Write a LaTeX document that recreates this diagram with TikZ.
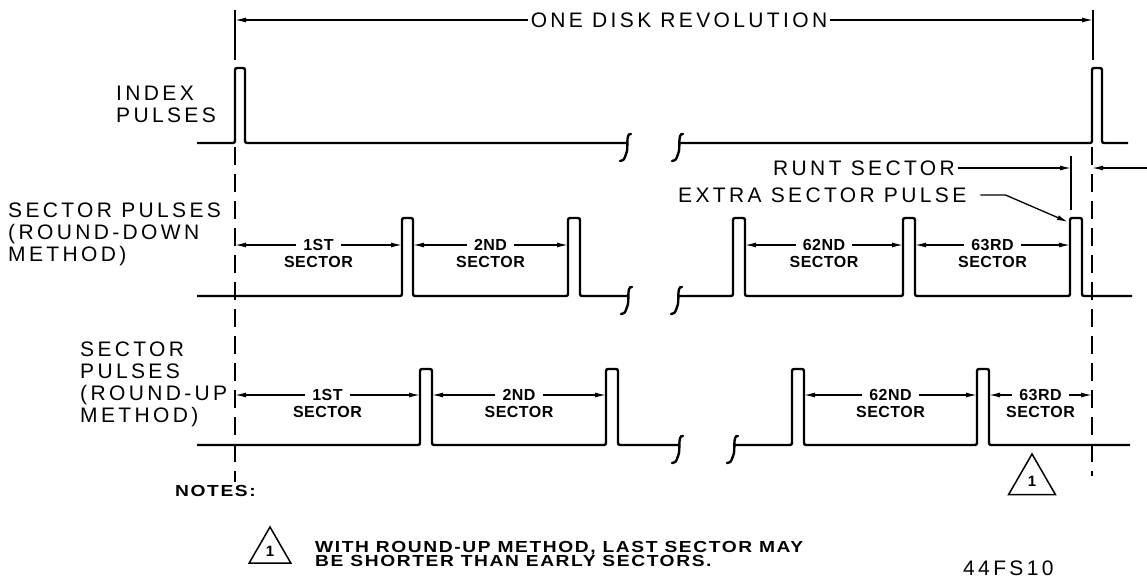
\documentclass[tikz,border=0pt]{standalone}
\usepackage{fontspec}
\usetikzlibrary{arrows.meta,shapes.geometric}
\newfontfamily\plotfont[LetterSpace=16]{Liberation Sans}
\newfontfamily\tagfont[LetterSpace=3]{Liberation Sans}
\newfontfamily\notefont[FakeStretch=1.2,LetterSpace=10]{Liberation Sans Bold}

\newcommand{\wavebreak}[2]{%
  \draw[brk] (#1+5,#2-9) .. controls (#1-1,#2-10) and (#1+3,#2+6) .. (#1,#2+11)
    .. controls (#1-2,#2+17) .. (#1-6,#2+18);}
\newcommand{\sectorspan}[5]{%
  \coordinate (#1l) at (#2,#4);
  \coordinate (#1r) at (#3,#4);
  \node[ordtag] (#1) at ({(#2+#3)/2},#4) {#5};
  \node[sectag] (#1s) at ({(#2+#3)/2},#4+17) {SECTOR};
  \draw[dim] (#1.west) -- (#1l);
  \draw[dim] (#1.east) -- (#1r);}

\begin{document}
\begin{tikzpicture}[
  x=1pt,y=-1pt,
  wave/.style={line width=2.4pt,rounded corners=2pt},
  brk/.style={line width=2.4pt,line cap=round},
  dim/.style={line width=1.3pt,-{Latex[length=11pt,width=5pt]}},
  ext/.style={line width=1.6pt},
  guide/.style={line width=2pt,dash pattern=on 18pt off 9pt},
  lbl/.style={font={\plotfont\fontsize{21}{22}\selectfont},inner sep=0pt},
  ordtag/.style={font={\tagfont\bfseries\fontsize{16}{16}\selectfont},inner xsep=7pt,inner ysep=0pt},
  sectag/.style={font={\tagfont\bfseries\fontsize{16}{16}\selectfont},inner sep=0pt},
  note/.style={font={\notefont\fontsize{16}{13}\selectfont},inner sep=0pt},
  notetri/.style={draw,regular polygon,regular polygon sides=3,inner sep=0pt,
    line width=1.5pt,font={\tagfont\bfseries\fontsize{15}{15}\selectfont}}
]
\useasboundingbox (0,0) rectangle (1147,581);

% revolution guides
\draw[ext] (235,10) -- (235,60);
\draw[guide] (235,147) -- (235,482);
\draw[ext] (1093,10) -- (1093,60);
\draw[guide] (1092,147) -- (1092,476);

\node[lbl,inner xsep=3pt] (rev) at (679,20) {ONE DISK REVOLUTION};
\coordinate (revL) at (235,20);
\coordinate (revR) at (1093,20);
\draw[dim] (rev.west) -- (revL);
\draw[dim] (rev.east) -- (revR);

% index pulses
\node[lbl,anchor=west,align=left] (idx) at (116,104) {INDEX\\PULSES};
\draw[wave] (197,143) -- (235,143) -- (235,68) -- (245,68) -- (245,143) -- (626,143);
\wavebreak{626}{143}
\wavebreak{678}{143}
\draw[wave] (678,143) -- (1092,143) -- (1092,68) -- (1102,68) -- (1102,143) -- (1128,143);

% runt sector and extra pulse
\node[lbl,anchor=west] (runt) at (773,168) {RUNT SECTOR};
\coordinate (runtL) at (1071,168);
\coordinate (runtR) at (1092,168);
\coordinate (runtE) at (1147,168);
\draw[ext] (1071,156) -- (1071,210);
\draw[dim] ([xshift=3pt]runt.east) -- (runtL);
\draw[dim] (runtE) -- (runtR);

\node[lbl,anchor=west] (extra) at (678,195) {EXTRA SECTOR PULSE};
\coordinate (xtip) at (1068,222);
\draw[dim] ([xshift=14pt]extra.east) -- ++(25,0) -- (xtip);

% round-down
\node[lbl,anchor=west,align=left] (rdn) at (8,234) {SECTOR PULSES\\(ROUND-DOWN\\METHOD)};
\draw[wave] (197,296) -- (402,296) -- (402,218) -- (413,218) -- (413,296) -- (568,296)
  -- (568,218) -- (580,218) -- (580,296) -- (627,296);
\wavebreak{627}{296}
\wavebreak{677}{296}
\draw[wave] (677,296) -- (733,296) -- (733,218) -- (745,218) -- (745,296) -- (903,296)
  -- (903,218) -- (915,218) -- (915,296) -- (1070,296) -- (1070,218) -- (1082,218)
  -- (1082,296) -- (1132,296);
\sectorspan{dA}{235}{402}{245}{1ST}
\sectorspan{dB}{413}{568}{245}{2ND}
\sectorspan{dC}{745}{903}{245}{62ND}
\sectorspan{dD}{915}{1070}{245}{63RD}

% round-up
\node[lbl,anchor=west,align=left] (rup) at (80,384) {SECTOR\\PULSES\\(ROUND-UP\\METHOD)};
\draw[wave] (197,445) -- (420,445) -- (420,369) -- (432,369) -- (432,445) -- (606,445)
  -- (606,369) -- (618,369) -- (618,445) -- (678,445);
\wavebreak{678}{445}
\wavebreak{733}{445}
\draw[wave] (733,445) -- (792,445) -- (792,369) -- (804,369) -- (804,445) -- (977,445)
  -- (977,369) -- (989,369) -- (989,445) -- (1130,445);
\sectorspan{uA}{235}{420}{395}{1ST}
\sectorspan{uB}{432}{606}{395}{2ND}
\sectorspan{uC}{804}{977}{395}{62ND}
\sectorspan{uD}{989}{1092}{395}{63RD}

\node[notetri,minimum size=54pt] (mark) at (1032,481) {1};

% notes
\node[note,anchor=west] (notes) at (175,491) {NOTES:};
\node[notetri,minimum size=48pt] (notemark) at (270,551) {1};
\node[note,anchor=west,align=left] (notetext) at (315,554)
  {WITH ROUND-UP METHOD, LAST SECTOR MAY\\BE SHORTER THAN EARLY SECTORS.};
\node[lbl,anchor=base west] (figid) at (963,575) {44FS10};
\end{tikzpicture}
\end{document}
